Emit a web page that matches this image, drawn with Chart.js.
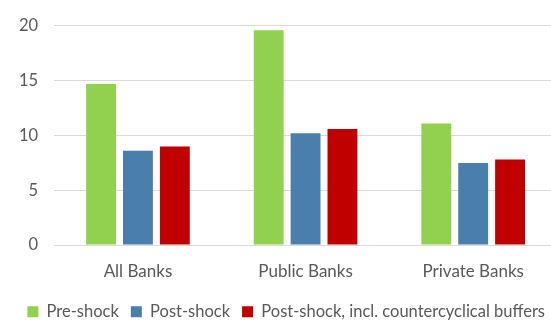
<!DOCTYPE html>
<html>
<head>
<meta charset="utf-8">
<script src="https://cdn.jsdelivr.net/npm/chart.js@4"></script>
<style>
	html, body { margin: 0; padding: 0; background: #fff; overflow: hidden; }
	/* plot area runs a few pixels past the visible right edge */
	#wrap { width: 557px; height: 322px; }
</style>
</head>
<body>
<div id="wrap"><canvas id="bankChart"></canvas></div>
<script>
const categories = ['All Banks', 'Public Banks', 'Private Banks'];
const preShock = [14.7, 19.6, 11.1];
const postShock = [8.6, 10.2, 7.5];
const postShockBuffers = [9.0, 10.6, 7.8];
const yTicks = [0, 5, 10, 15, 20];

Chart.defaults.font.family = 'Lato, "Open Sans", sans-serif';
Chart.defaults.color = '#595959';

new Chart(document.getElementById('bankChart'), {
	type: 'bar',
	data: {
		labels: categories,
		datasets: [
			{ label: 'Pre-shock', data: preShock, backgroundColor: '#92D050' },
			{ label: 'Post-shock', data: postShock, backgroundColor: '#4A7EAD' },
			{ label: 'Post-shock, incl. countercyclical buffers', data: postShockBuffers, backgroundColor: '#C00000' }
		]
	},
	options: {
		responsive: true,
		maintainAspectRatio: false,
		animation: false,
		categoryPercentage: 0.66,
		barPercentage: 0.81,
		// negative bottom padding pulls the legend row down towards the edge
		layout: { padding: { top: 20, right: 0, left: 0, bottom: -8 } },
		plugins: {
			legend: {
				position: 'bottom',
				align: 'end',
				labels: { boxWidth: 11, boxHeight: 11, padding: 12, font: { size: 16.5 } }
			},
			tooltip: { enabled: false }
		},
		scales: {
			y: {
				min: 0,
				max: 20,
				afterBuildTicks: axis => { axis.ticks = yTicks.map(v => ({ value: v })); },
				afterFit: axis => { axis.width += 3; },
				ticks: { font: { size: 16.5 }, padding: 16 },
				grid: { color: '#d9d9d9', drawTicks: false },
				border: { display: false }
			},
			x: {
				ticks: { font: { size: 17 }, padding: 8 },
				grid: { display: false },
				border: { color: '#d9d9d9' },
				afterFit: axis => { axis.height += 2; }
			}
		}
	}
});
</script>
</body>
</html>
